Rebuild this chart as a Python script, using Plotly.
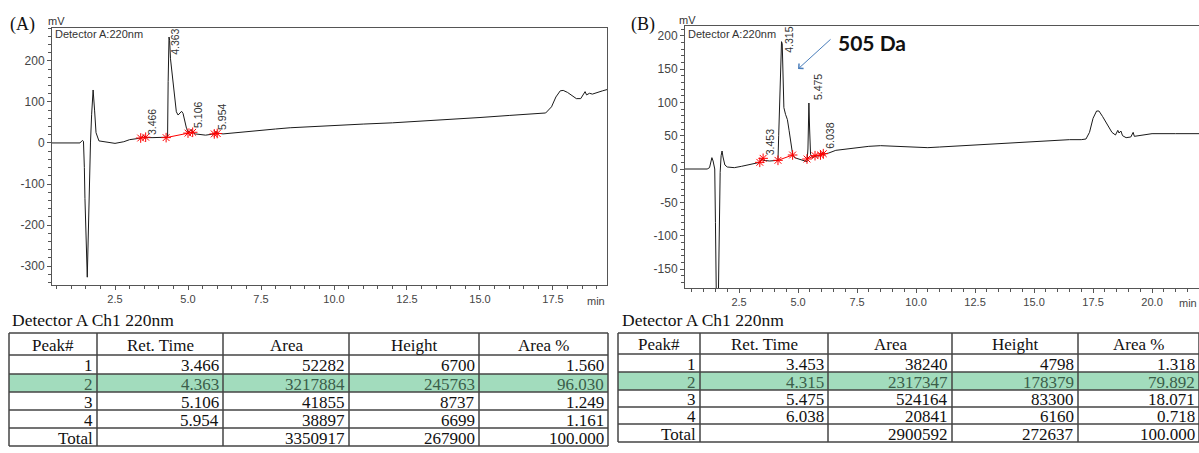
import plotly.graph_objects as go

W, H = 1199, 453

# ---------------- Chromatogram A (time min, signal mV) ----------------
a_time = [0.34, 1.30, 1.38, 1.42, 1.45, 1.47, 1.55, 1.57, 1.60, 1.62, 1.66, 1.70, 1.75, 1.80, 1.85,
          1.95, 2.2, 2.5, 2.8, 3.0, 3.3, 3.40, 3.466, 3.55, 3.8, 4.0, 4.25, 4.30, 4.32, 4.35,
          4.37, 4.40, 4.45, 4.50, 4.55, 4.60, 4.66, 4.72, 4.78, 4.83, 4.88, 4.95, 5.0, 5.05,
          5.106, 5.15, 5.25, 5.4, 5.6, 5.8, 5.9, 5.954, 6.0, 6.2, 6.5, 7.0, 7.5, 8.0, 8.5,
          9.0, 9.5, 10.0, 11.0, 12.0, 12.5, 13.0, 14.0, 14.5, 15.0, 16.0, 17.0, 17.25, 17.45,
          17.6, 17.75, 17.85, 18.0, 18.15, 18.3, 18.45, 18.6, 18.65, 18.75, 18.85, 19.0, 19.2, 19.35]
a_mv = [0, 0, 6, 4, -60, -135, -327, -260, -190, -100, 0, 70, 129, 80, 25,
        5, 2, -1, 3, 8, 11, 12, 18.5, 13, 13, 13, 13, 14, 150, 258,
        250, 205, 170, 130, 98, 76, 68, 72, 77, 72, 55, 35, 27, 28,
        33, 27, 22, 20, 19, 21, 22, 28, 24, 22, 24, 29, 31, 34, 37,
        39, 41, 43, 46, 49, 51, 53, 57, 60, 62, 67, 72, 73, 88,
        112, 127, 128, 123, 116, 108, 108, 125, 117, 121, 119, 123, 127, 130]
a_peak_rt = ["3.466", "4.363", "5.106", "5.954"]
a_label_t = [3.77, 4.55, 5.34, 6.16]
a_label_mv = [51, 246, 68, 63]
a_base_t = [3.38, 3.55, None, 4.25, 5.0, 5.16, None, 5.9, 6.0]
a_base_mv = [12, 14, None, 13, 24, 26, None, 22, 23]

# ---------------- Chromatogram B ----------------
b_time = [0.21, 1.15, 1.25, 1.30, 1.35, 1.40, 1.44, 1.47, 1.50, 1.54, 1.62, 1.66, 1.70, 1.74, 1.78,
          1.82, 1.90, 2.0, 2.3, 2.6, 3.0, 3.3, 3.38, 3.453, 3.52, 3.8, 4.15, 4.18, 4.21, 4.24,
          4.27, 4.30, 4.33, 4.36, 4.40, 4.47, 4.55, 4.62, 4.70, 4.77, 4.85, 5.0, 5.2, 5.38,
          5.42, 5.46, 5.49, 5.53, 5.62, 5.72, 5.9, 6.03, 6.08, 6.3, 6.6, 7.0, 7.5, 8.0, 8.5,
          9.0, 9.5, 10.0, 10.5, 11.0, 11.5, 12.0, 12.5, 13.0, 13.5, 14.0, 14.5, 15.0, 15.5,
          16.0, 16.5, 17.0, 17.2, 17.35, 17.5, 17.65, 17.75, 17.9, 18.1, 18.3, 18.45, 18.55,
          18.6, 18.68, 18.75, 18.9, 19.1, 19.2, 19.25, 19.5, 19.8, 20.0, 21.0, 22.0]
b_mv = [0, 0, 2, 10, 17, 12, 1, 0, -80, -200, -200, -80, -5, 20, 27,
        18, 6, 3, 2, 4, 7, 9, 10, 15, 13, 12, 13, 50, 90, 95,
        160, 191, 188, 120, 92, 82, 74, 58, 38, 22, 17, 15, 13, 11,
        30, 99, 60, 22, 17, 19, 20, 25, 22, 24, 28, 30, 32, 34, 35,
        34, 33, 32, 32, 33, 34, 35, 36, 37, 39, 40, 41, 41, 42,
        43, 44, 44, 45, 55, 76, 87, 87, 79, 66, 55, 51, 58,
        54, 57, 50, 47, 48, 55, 49, 50, 52, 53, 53, 53]
b_peak_rt = ["3.453", "4.315", "5.475", "6.038"]
b_label_t = [3.81, 4.62, 5.85, 6.36]
b_label_mv = [40, 194, 123, 50]
b_base_t = [3.38, 3.52, None, 4.15, 4.77, None, 5.38, 5.72, None, 5.95, 6.07]
b_base_mv = [10, 16, None, 13, 21, None, 15, 20, None, 21, 23]

# ---------------- Tables ----------------
headers = ["Peak#", "Ret. Time", "Area", "Height", "Area %"]
peak_ids = ["1", "2", "3", "4", "Total"]
a_rt = ["3.466", "4.363", "5.106", "5.954", ""]
a_area = ["52282", "3217884", "41855", "38897", "3350917"]
a_height = ["6700", "245763", "8737", "6699", "267900"]
a_pct = ["1.560", "96.030", "1.249", "1.161", "100.000"]
b_rt = ["3.453", "4.315", "5.475", "6.038", ""]
b_area = ["38240", "2317347", "524164", "20841", "2900592"]
b_height = ["4798", "178379", "83300", "6160", "272637"]
b_pct = ["1.318", "79.892", "18.071", "0.718", "100.000"]

a_x_ticks = [2.5, 5.0, 7.5, 10.0, 12.5, 15.0, 17.5]
b_x_ticks = [2.5, 5.0, 7.5, 10.0, 12.5, 15.0, 17.5, 20.0]
a_y_ticks = [-300, -200, -100, 0, 100, 200]
b_y_ticks = [-150, -100, -50, 0, 50, 100, 150, 200]

# ---------------- layout helpers (pixel geometry) ----------------
def px(x):
    return x / W

def py(y):
    return 1 - y / H

TICKFONT = dict(family="Liberation Sans, Arial", size=11, color="#444")
SERIF = "Liberation Serif, Times New Roman"

fig = go.Figure()

fig.add_trace(go.Scatter(x=a_time, y=a_mv, mode="lines", line=dict(color="#1a1a1a", width=1),
                         xaxis="x", yaxis="y", showlegend=False, hoverinfo="skip"))
fig.add_trace(go.Scatter(x=a_base_t, y=a_base_mv, mode="lines+markers",
                         line=dict(color="#ff0000", width=1),
                         marker=dict(symbol="asterisk-open", size=8, color="#ff0000",
                                     line=dict(color="#ff0000", width=1)),
                         xaxis="x", yaxis="y", showlegend=False, hoverinfo="skip"))
fig.add_trace(go.Scatter(x=b_time, y=b_mv, mode="lines", line=dict(color="#1a1a1a", width=1),
                         xaxis="x2", yaxis="y2", showlegend=False, hoverinfo="skip"))
fig.add_trace(go.Scatter(x=b_base_t, y=b_base_mv, mode="lines+markers",
                         line=dict(color="#ff0000", width=1),
                         marker=dict(symbol="asterisk-open", size=8, color="#ff0000",
                                     line=dict(color="#ff0000", width=1)),
                         xaxis="x2", yaxis="y2", showlegend=False, hoverinfo="skip"))

def xaxis_cfg(rng, dom, ticks, anchor):
    return dict(domain=dom, range=rng, anchor=anchor, showgrid=False, zeroline=False,
                showline=True, linecolor="#555", linewidth=1, mirror=True,
                ticks="outside", ticklen=4, tickcolor="#555",
                tickvals=ticks, ticktext=[f"{t:.1f}" for t in ticks], tickfont=TICKFONT,
                minor=dict(dtick=0.5, tick0=0, ticks="outside", ticklen=3, tickcolor="#555"))

def yaxis_cfg(rng, dom, ticks, anchor, minor_dt, mirror):
    return dict(domain=dom, range=rng, anchor=anchor, showgrid=False, zeroline=False,
                showline=True, linecolor="#555", linewidth=1, mirror=mirror,
                ticks="outside", ticklen=4, tickcolor="#555",
                tickvals=ticks, ticktext=[str(t) for t in ticks],
                tickfont=dict(family="Liberation Sans, Arial", size=12, color="#444"),
                minor=dict(dtick=minor_dt, tick0=0, ticks="outside", ticklen=3, tickcolor="#555"))

fig.update_layout(
    width=W, height=H, margin=dict(l=0, r=0, t=0, b=0),
    paper_bgcolor="white", plot_bgcolor="white",
    xaxis=xaxis_cfg([0.342, 19.35], [px(52), px(607)], a_x_ticks, "y"),
    yaxis=yaxis_cfg([-346, 280], [py(285), py(28)], a_y_ticks, "x", 20, True),
    xaxis2=xaxis_cfg([0.21, 21.99], [px(685), 1.0], b_x_ticks, "y2"),
    yaxis2=yaxis_cfg([-178.5, 214.5], [py(288), py(26)], b_y_ticks, "x2", 10, False),
)

ann = []
shapes = []

def ptext(x, y, text, size, family="Liberation Sans, Arial", color="#333", xanchor="left", bold=False):
    ann.append(dict(x=px(x), y=py(y), xref="paper", yref="paper", text=("<b>%s</b>" % text) if bold else text,
                    showarrow=False, xanchor=xanchor, yanchor="middle",
                    font=dict(family=family, size=size, color=color)))

# panel labels
ptext(8, 24, "(A)", 18, SERIF, "#111")
ptext(629, 24, "(B)", 18, SERIF, "#111")
ptext(46, 21, "mV", 11)
ptext(677, 20, "mV", 11)
ptext(53, 34, "Detector A:220nm", 11)
ptext(686, 34, "Detector A:220nm", 11)
ptext(607, 301, "min", 11, xanchor="right", color="#444")
ptext(1199, 303, "min", 11, xanchor="right", color="#444")

# peak labels
for t, m, s in zip(a_label_t, a_label_mv, a_peak_rt):
    ann.append(dict(x=t, y=m, xref="x", yref="y", text=s, textangle=-90, showarrow=False,
                    font=dict(family="Liberation Sans, Arial", size=10.5, color="#333")))
for t, m, s in zip(b_label_t, b_label_mv, b_peak_rt):
    ann.append(dict(x=t, y=m, xref="x2", yref="y2", text=s, textangle=-90, showarrow=False,
                    font=dict(family="Liberation Sans, Arial", size=10.5, color="#333")))

# 505 Da arrow
ann.append(dict(x=5.0, y=150, xref="x2", yref="y2", ax=34, ay=-31, axref="pixel", ayref="pixel",
                text="", showarrow=True, arrowhead=4, arrowsize=1.3, arrowwidth=1,
                arrowcolor="#4a7ebb"))
ptext(836, 42, "505 Da", 21, "Lato, Open Sans", "#111", bold=True)

# tables
def draw_table(left_title_x, cols, rows, data):
    ptext(left_title_x, 320, "Detector A Ch1 220nm", 17.5, SERIF, "#111")
    # green highlighted row (peak 2)
    shapes.append(dict(type="rect", xref="paper", yref="paper", x0=px(cols[0]), x1=px(cols[-1]),
                       y0=py(rows[3]), y1=py(rows[2]), fillcolor="#a2dcbd", line=dict(width=0),
                       layer="below"))
    for r in rows:
        shapes.append(dict(type="line", xref="paper", yref="paper", x0=px(cols[0]), x1=px(cols[-1]),
                           y0=py(r), y1=py(r), line=dict(color="#444", width=1.5)))
    for c in cols:
        shapes.append(dict(type="line", xref="paper", yref="paper", x0=px(c), x1=px(c),
                           y0=py(rows[0]), y1=py(rows[-1]), line=dict(color="#444", width=1.5)))
    for j, h in enumerate(headers):
        ptext((cols[j] + cols[j + 1]) / 2, (rows[0] + rows[1]) / 2 + 1, h, 17, SERIF, "#111",
              xanchor="center")
    for i in range(5):
        yc = (rows[i + 1] + rows[i + 2]) / 2 + 1
        col = "#3b5e4a" if i == 1 else "#111"
        for j, vals in enumerate(data):
            if vals[i]:
                ptext(cols[j + 1] - 2, yc, vals[i], 17, SERIF, col, xanchor="right")

draw_table(10, [9, 97, 223, 349, 479, 608], [333, 355, 374, 392, 410, 428, 446],
           [peak_ids, a_rt, a_area, a_height, a_pct])
draw_table(620, [618, 700, 828, 952, 1078, 1199], [333, 354, 372, 390, 407, 424, 442],
           [peak_ids, b_rt, b_area, b_height, b_pct])

fig.update_layout(annotations=ann, shapes=shapes)
fig.write_html("out.html", config={"displayModeBar": False},
               post_script="document.body.style.margin='0';document.body.style.overflow='hidden';")
